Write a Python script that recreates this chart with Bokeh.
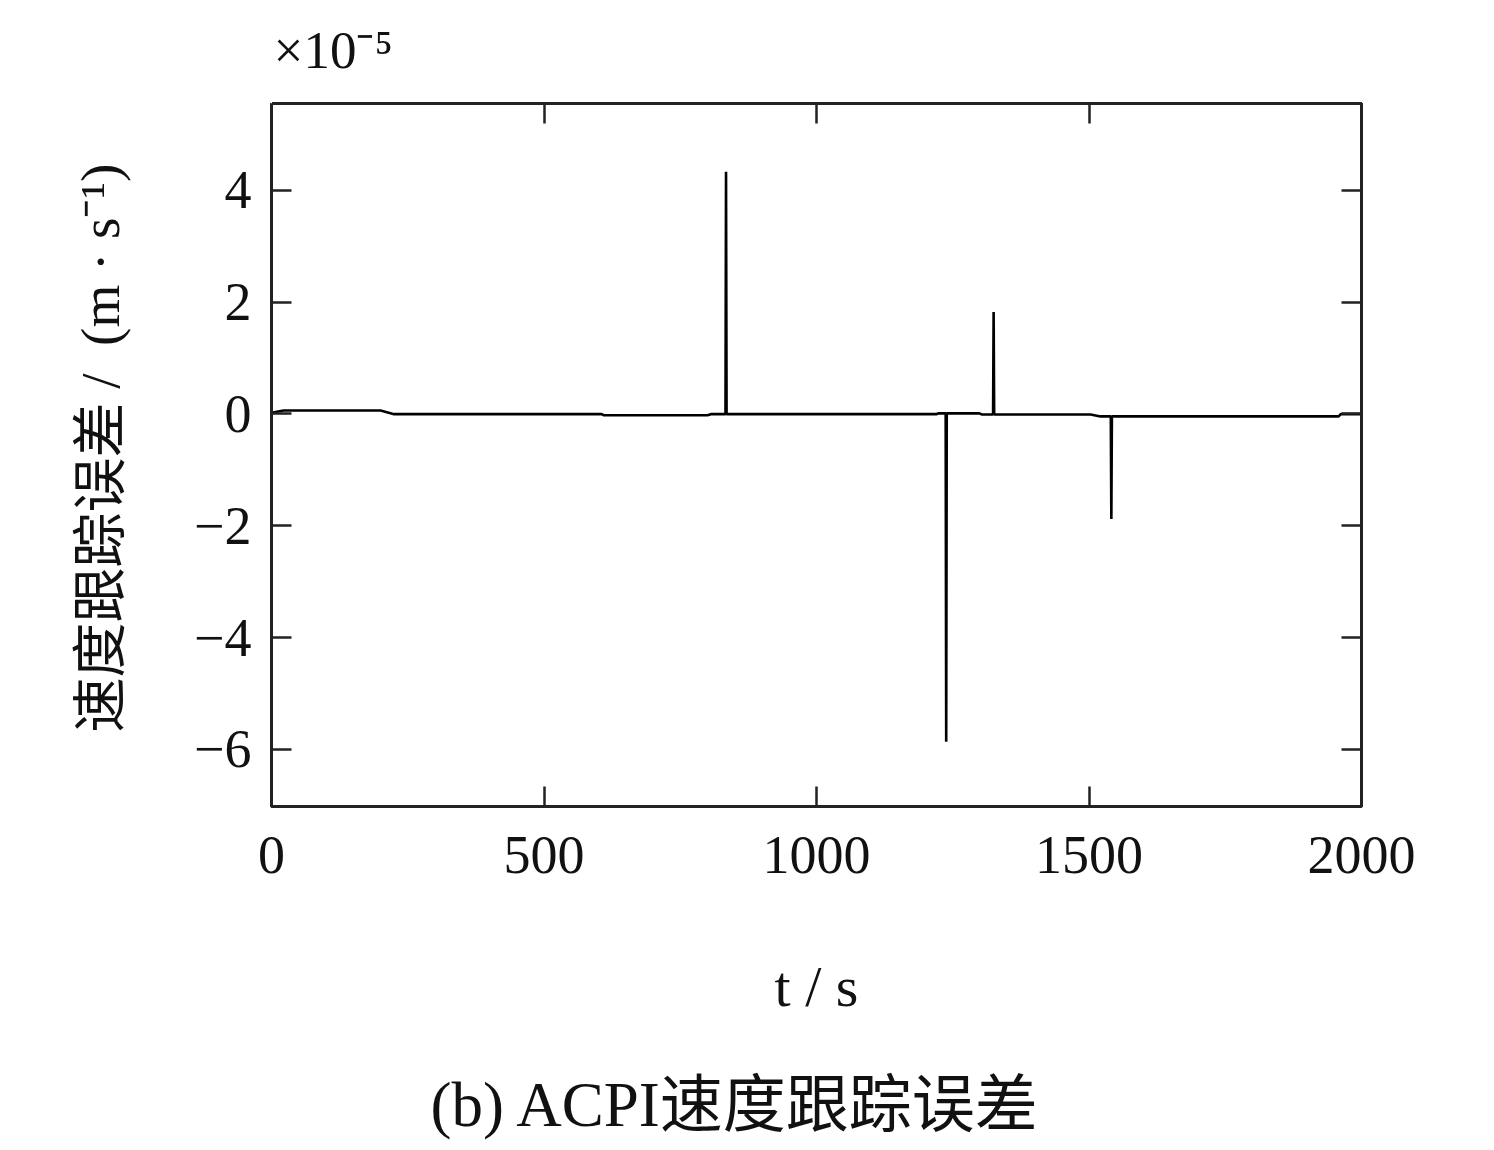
from bokeh.plotting import figure
from bokeh.models import LinearAxis, FixedTicker, Range1d, Title, CustomJSTickFormatter
from bokeh.embed import file_html
from bokeh.resources import INLINE

# time (s) and velocity tracking error (units of 1e-5 m/s)
t = [0, 5, 22, 200, 225, 606, 610, 800, 806, 833, 834, 835, 1220, 1224,
     1237, 1238, 1239, 1299, 1303, 1324, 1325, 1326, 1503, 1521, 1540, 1541,
     1542, 1958, 1962, 2000]
v = [0.0, 0.03, 0.06, 0.06, -0.005, -0.005, -0.025, -0.025, -0.005, -0.005,
     4.33, -0.005, -0.005, 0.01, 0.01, -5.86, 0.01, 0.01, -0.01, -0.01,
     1.82, -0.01, -0.01, -0.045, -0.045, -1.88, -0.045, -0.045, -0.005, -0.005]

x_ticks = [0, 500, 1000, 1500, 2000]
y_ticks = [-6, -4, -2, 0, 2, 4]
y_tick_labels = {-6: "\u22126", -4: "\u22124", -2: "\u22122", 0: "0", 2: "2", 4: "4"}

NB = "\u00a0"
multiplier = "\u00d710\u207b\u2075"
y_label = NB + "速度跟踪误差" + NB + "/" + NB + NB + "(m" + NB + "·" + NB + "s⁻¹)"
x_label = "t / s"
caption = "(b) ACPI速度跟踪误差"

FONT = "Liberation Serif"
CJK = "Liberation Serif, Noto Sans CJK SC"
INK = "#111111"

p = figure(width=1490, height=1150, output_backend="svg", toolbar_location=None,
           x_range=Range1d(0, 2000), y_range=Range1d(-7.02, 5.55),
           min_border_left=271, min_border_right=129, min_border_top=103,
           min_border_bottom=344)
p.grid.visible = False
p.outline_line_color = "#222222"
p.outline_line_width = 3
p.background_fill_color = "white"
p.border_fill_color = "white"

p.line(t, v, line_color="black", line_width=2.6)

def style_axis(ax, ticks):
    ax.ticker = FixedTicker(ticks=ticks)
    ax.axis_line_color = "#222222"
    ax.axis_line_width = 3
    ax.major_tick_line_color = "#222222"
    ax.major_tick_line_width = 2.5
    ax.major_tick_in = 20
    ax.major_tick_out = 0
    ax.minor_tick_line_color = None
    ax.major_label_text_font = FONT
    ax.major_label_text_color = INK
    ax.major_label_text_font_size = "54px"

blank = CustomJSTickFormatter(code="return ''")

def spacer(size):
    # invisible axis (white tick on white border) that only reserves room
    ax = LinearAxis(ticker=FixedTicker(ticks=[0]), formatter=blank)
    ax.axis_line_color = None
    ax.major_tick_line_color = "white"
    ax.major_tick_line_width = 1
    ax.minor_tick_line_color = None
    ax.major_tick_in = 0
    ax.major_tick_out = size
    ax.minor_tick_out = 0
    ax.major_label_standoff = 0
    ax.major_label_text_color = None
    return ax

xa = p.xaxis[0]
ya = p.yaxis[0]
style_axis(xa, x_ticks)
style_axis(ya, y_ticks)
xa.major_label_standoff = 30
ya.major_label_standoff = 20
ya.major_label_overrides = y_tick_labels

xa.axis_label = x_label
xa.axis_label_text_font = FONT
xa.axis_label_text_font_style = "normal"
xa.axis_label_text_font_size = "58px"
xa.axis_label_text_color = INK
xa.axis_label_standoff = 78

ya.axis_label = y_label
ya.axis_label_text_font = CJK
ya.axis_label_text_font_style = "normal"
ya.axis_label_text_font_size = "55px"
ya.axis_label_text_color = INK
ya.axis_label_standoff = 60

top_ax = LinearAxis()
style_axis(top_ax, x_ticks)
top_ax.formatter = blank
top_ax.major_label_text_color = None
top_ax.major_label_standoff = 0
p.add_layout(top_ax, "above")
p.add_layout(spacer(25), "above")

right_ax = LinearAxis()
style_axis(right_ax, y_ticks)
right_ax.formatter = blank
right_ax.major_label_text_color = None
right_ax.major_label_standoff = 0
p.add_layout(right_ax, "right")

# scale multiplier as the figure title
p.title.text = multiplier
p.title.align = "left"
p.title.offset = 2
p.title.text_font = FONT
p.title.text_font_style = "normal"
p.title.text_font_size = "53px"
p.title.text_color = INK
p.title.standoff = 0

# caption below the axis label
p.add_layout(spacer(46), "below")
p.add_layout(Title(text=caption, align="left", offset=159, text_font=CJK,
                   text_font_style="normal", text_font_size="63px",
                   text_color=INK, standoff=0), "below")

open("out.html", "w").write(file_html(p, INLINE))
